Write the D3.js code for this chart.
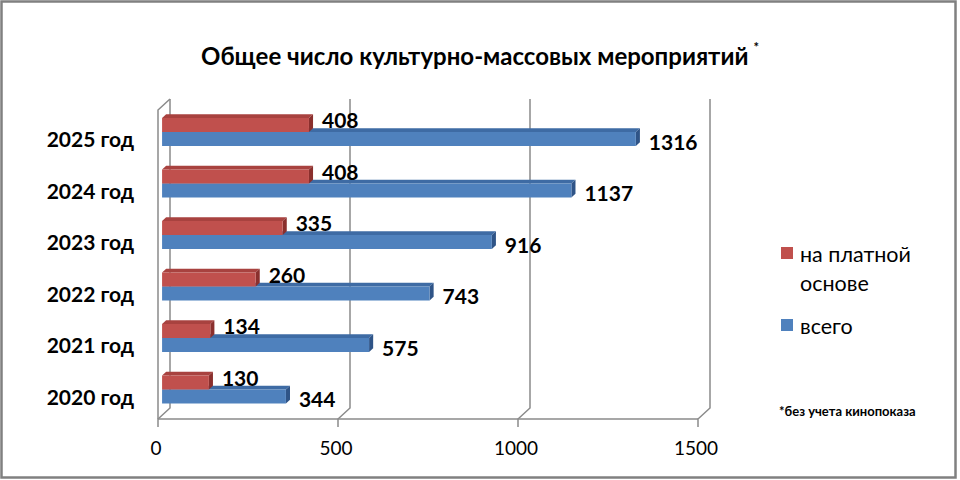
<!DOCTYPE html>
<html>
<head>
<meta charset="utf-8">
<script src="https://cdn.jsdelivr.net/npm/d3@7"></script>
<style>
  body { margin: 0; background: #fff; }
  text { font-family: Lato, "Open Sans", sans-serif; }
</style>
</head>
<body>
<div id="wrapper"></div>
<script>
  // DATA
  const years = ['2025 год', '2024 год', '2023 год', '2022 год', '2021 год', '2020 год']
  const paid = [408, 408, 335, 260, 134, 130]
  const total = [1316, 1137, 916, 743, 575, 344]
  const xTicks = [0, 500, 1000, 1500]
  const seriesNames = ['на платной основе', 'всего']

  // DIMENSIONS
  const width = 960
  const height = 480
  const depth = { dx: 12, dy: 11 }   // 3d offset of the back wall

  const wrapper = d3.select('#wrapper').append('svg')
    .attr('width', width)
    .attr('height', height)

  // outer border
  wrapper.append('rect')
    .attr('x', 1.5).attr('y', 1.5)
    .attr('width', 954).attr('height', 476)
    .attr('fill', 'white')
    .attr('stroke', '#808080')
    .attr('stroke-width', 2.5)

  // SCALES
  const xScale = d3.scaleLinear()
    .domain([0, 1500])
    .range([158, 698])

  const yScale = d3.scaleBand()
    .domain(years)
    .range([110, 419])

  // project a point at depth d (0 = front, 1 = back)
  const proj = (x, y, d) => [x + d * depth.dx, y - d * depth.dy]

  const gridColor = '#8a8a8a'
  const grid = wrapper.append('g')
    .attr('fill', 'none')
    .attr('stroke', gridColor)
    .attr('stroke-width', 1.5)

  const floorY = yScale.range()[1]
  const topY = yScale.range()[0]
  const line = d3.line()

  // back wall gridlines
  xTicks.forEach(t => {
    const x = xScale(t)
    grid.append('path')
      .attr('d', line([proj(x, topY, 1), proj(x, floorY, 1), proj(x, floorY, 0), [x, floorY + 8]]))
  })
  // left wall
  grid.append('path')
    .attr('d', line([proj(xScale(0), topY, 1), [xScale(0), topY], [xScale(0), floorY]]))
  // floor front edge
  grid.append('path')
    .attr('d', line([[xScale(0), floorY], [xScale(1500), floorY]]))

  // AXIS LABELS
  wrapper.append('g').selectAll('text')
    .data(xTicks)
    .join('text')
    .attr('x', d => xScale(d) - 2)
    .attr('y', 455)
    .attr('text-anchor', 'middle')
    .style('font-size', '19px')
    .attr('fill', '#000')
    .text(d => d)

  const barH = 14
  const d0 = 0.34, d1 = 0.68

  const colors = {
    paid: { front: '#C0504D', top: '#A8423F', side: '#8A2F2D' },
    total: { front: '#4F81BD', top: '#3E6BA4', side: '#2F5487' }
  }

  // draw one 3d bar: y0 = top of front face, value = length
  function bar(g, value, y0, c) {
    const x0 = xScale(0), x1 = xScale(value)
    const f = [proj(x0, y0, d0), proj(x1, y0, d0), proj(x1, y0 + barH, d0), proj(x0, y0 + barH, d0)]
    const tp = [proj(x0, y0, d0), proj(x1, y0, d0), proj(x1, y0, d1), proj(x0, y0, d1)]
    const sd = [proj(x1, y0, d0), proj(x1, y0, d1), proj(x1, y0 + barH, d1), proj(x1, y0 + barH, d0)]
    g.append('path').attr('d', line(tp) + 'Z').attr('fill', c.top)
    g.append('path').attr('d', line(sd) + 'Z').attr('fill', c.side)
    g.append('path').attr('d', line(f) + 'Z').attr('fill', c.front)
  }

  const bars = wrapper.append('g')
  years.forEach((yr, i) => {
    const c = yScale(yr) + yScale.bandwidth() / 2
    const g = bars.append('g')
    bar(g, total[i], c, colors.total)
    bar(g, paid[i], c - barH, colors.paid)

    const cy = c - d0 * depth.dy
    g.append('text')
      .attr('x', proj(xScale(paid[i]), 0, d0)[0] + 13)
      .attr('y', cy - 11.5)
      .attr('dy', '0.36em')
      .style('font-size', '21px')
      .style('font-weight', 'bold')
      .text(paid[i])
    g.append('text')
      .attr('x', proj(xScale(total[i]), 0, d0)[0] + 13)
      .attr('y', cy + 10)
      .attr('dy', '0.36em')
      .style('font-size', '21px')
      .style('font-weight', 'bold')
      .text(total[i])
  })

  // CATEGORY LABELS
  wrapper.append('g').selectAll('text')
    .data(years)
    .join('text')
    .attr('x', 134)
    .attr('y', d => yScale(d) + yScale.bandwidth() / 2 + 4)
    .attr('dy', '0.36em')
    .attr('text-anchor', 'end')
    .style('font-size', '21px')
    .style('font-weight', 'bold')
    .text(d => d)

  // TITLE
  const title = wrapper.append('text')
    .attr('x', 480)
    .attr('y', 65)
    .attr('text-anchor', 'middle')
    .style('font-size', '24px')
    .style('font-weight', 'bold')
  title.append('tspan').text('Общее число культурно-массовых мероприятий')
  title.append('tspan').attr('dx', 5).attr('dy', -13).style('font-size', '13px').text('*')

  // LEGEND
  const legend = wrapper.append('g')
  legend.append('rect').attr('x', 781).attr('y', 247).attr('width', 12).attr('height', 12).attr('fill', colors.paid.front)
  legend.append('text').attr('x', 800).attr('y', 262).style('font-size', '21.5px').text('на платной')
  legend.append('text').attr('x', 800).attr('y', 291).style('font-size', '21.5px').text('основе')
  legend.append('rect').attr('x', 781).attr('y', 319).attr('width', 12).attr('height', 12).attr('fill', colors.total.front)
  legend.append('text').attr('x', 800).attr('y', 334).style('font-size', '21.5px').text('всего')

  // FOOTNOTE
  wrapper.append('text')
    .attr('x', 779)
    .attr('y', 416)
    .style('font-size', '13px')
    .style('font-weight', 'bold')
    .text('*без учета кинопоказа')
</script>
</body>
</html>
